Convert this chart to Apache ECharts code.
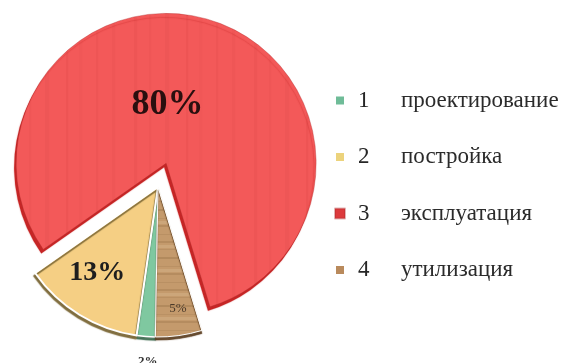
<!DOCTYPE html>
<html>
<head>
<meta charset="utf-8">
<style>
  html, body { margin: 0; padding: 0; background: #ffffff; }
  #chart { width: 564px; height: 363px; }
</style>
<script src="https://cdn.jsdelivr.net/npm/echarts@6/dist/echarts.min.js"></script>
</head>
<body>
<div id="chart"></div>
<script>
// Life-cycle stages and their share of the total, in percent
const stages = ['проектирование', 'постройка', 'эксплуатация', 'утилизация'];
const stageNumbers = ['1', '2', '3', '4'];
const shares = [2, 13, 80, 5];

// Faint vertical grain for the large slice
function makeRedGrain() {
  const c = document.createElement('canvas');
  c.width = 120; c.height = 8;
  const g = c.getContext('2d');
  g.fillStyle = '#f35959';
  g.fillRect(0, 0, 120, 8);
  const streaks = [[6, 3, 0.05], [21, 2, 0.035], [37, 4, 0.045], [58, 2, 0.06], [71, 3, 0.03], [88, 2, 0.05], [104, 3, 0.04]];
  streaks.forEach(function (s) {
    g.fillStyle = 'rgba(150,20,20,' + s[2] + ')';
    g.fillRect(s[0], 0, s[1], 8);
  });
  return c;
}

// Horizontal wood grain for the disposal slice
function makeWoodGrain() {
  const c = document.createElement('canvas');
  c.width = 8; c.height = 48;
  const g = c.getContext('2d');
  g.fillStyle = '#c49a6c';
  g.fillRect(0, 0, 8, 48);
  const lines = [[1, 2, 0.14], [9, 1, 0.10], [17, 2, 0.16], [26, 1, 0.09], [33, 2, 0.14], [42, 1, 0.10]];
  lines.forEach(function (l) {
    g.fillStyle = 'rgba(90,55,20,' + l[2] + ')';
    g.fillRect(0, l[0], 8, l[1]);
  });
  g.fillStyle = 'rgba(255,240,210,0.14)';
  g.fillRect(0, 5, 8, 3);
  g.fillRect(0, 29, 8, 3);
  return c;
}

const sliceStyles = [
  { color: '#7fc8a0', borderColor: '#ffffff', borderWidth: 1.5, shadowColor: 'rgba(40,90,60,0.8)', shadowOffsetY: 3, shadowBlur: 1 },
  { color: '#f5cf84', borderColor: '#ffffff', borderWidth: 2, shadowColor: 'rgba(120,100,50,0.9)', shadowOffsetX: -1, shadowOffsetY: 3, shadowBlur: 1 },
  { color: { image: makeRedGrain(), repeat: 'repeat' }, borderColor: 'rgba(170,40,40,0.35)', borderWidth: 1, shadowColor: '#c62626', shadowOffsetX: -2, shadowOffsetY: 4, shadowBlur: 1 },
  { color: { image: makeWoodGrain(), repeat: 'repeat' }, borderColor: '#ffffff', borderWidth: 1, shadowColor: 'rgba(90,60,30,0.9)', shadowOffsetY: 3, shadowBlur: 1 }
];
const legendColors = ['#6fbc98', '#ecd37c', '#dc3a3c', '#b98a5c'];

const labelStyles = [
  { fontSize: 13, fontWeight: 'bold', color: '#333333' },
  { fontSize: 28, fontWeight: 'bold', color: '#1e1e1e' },
  { fontSize: 36, fontWeight: 'bold', color: '#2a0f0f' },
  { fontSize: 13, fontWeight: 'normal', color: '#4a3a2a' }
];
// Nudges from the default inside-label spot
const labelNudges = [[-4, 97], [-20, 19], [-24, 15], [9, 44]];

const pieData = stages.map(function (name, i) {
  return {
    name: name,
    value: shares[i],
    selected: i === 2,
    itemStyle: sliceStyles[i],
    label: labelStyles[i]
  };
});

const chart = echarts.init(document.getElementById('chart'), null, { renderer: 'canvas' });
chart.setOption({
  backgroundColor: '#ffffff',
  animation: false,
  legend: {
    orient: 'vertical',
    left: 329,
    top: 84,
    itemWidth: 10,
    itemHeight: 10,
    itemGap: 33.5,
    icon: 'rect',
    selectedMode: false,
    data: stages.map(function (name, i) {
      return { name: name, itemStyle: { color: legendColors[i] } };
    }),
    formatter: function (name) {
      const i = stages.indexOf(name);
      return '{n|' + stageNumbers[i] + '}{t|' + name + '}';
    },
    textStyle: {
      rich: {
        n: { fontFamily: 'Liberation Serif', fontSize: 23, lineHeight: 24, color: '#262626', width: 43, padding: [0, 0, 0, 8] },
        t: { fontFamily: 'Liberation Serif', fontSize: 23, lineHeight: 24, color: '#2b2b2b' }
      }
    }
  },
  series: [{
    type: 'pie',
    center: [158, 187],
    radius: 150,
    startAngle: 269,
    clockwise: true,
    selectedMode: 'single',
    selectedOffset: 25,
    avoidLabelOverlap: false,
    emphasis: { disabled: true },
    label: {
      show: true,
      position: 'inside',
      formatter: '{c}%',
      fontFamily: 'Liberation Serif'
    },
    labelLine: { show: false },
    labelLayout: function (params) {
      const d = labelNudges[params.dataIndex];
      return { dx: d[0], dy: d[1] };
    },
    data: pieData
  }]
});
</script>
</body>
</html>
